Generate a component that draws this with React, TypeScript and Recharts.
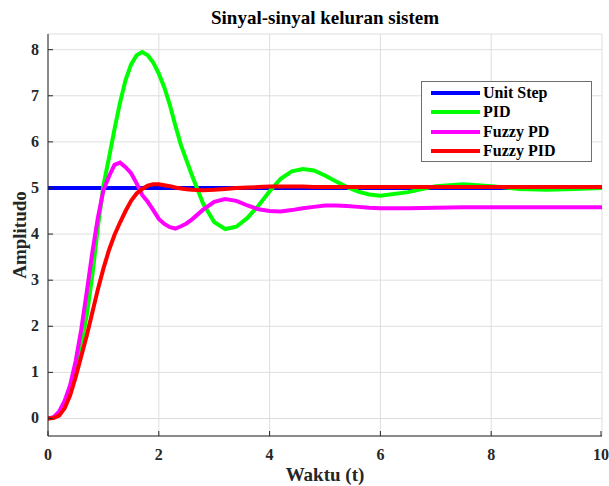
import React from "react";
import { LineChart, Line, XAxis, YAxis, CartesianGrid } from "recharts";

// waktu (s) and the response of each controller
const waktu = [
  0, 0.1, 0.2, 0.3, 0.4, 0.5, 0.6, 0.7, 0.8, 0.9, 1.0, 1.1, 1.2, 1.3, 1.4, 1.5,
  1.6, 1.7, 1.8, 1.9, 2.0, 2.1, 2.2, 2.3, 2.4, 2.5, 2.6, 2.8, 3.0, 3.2, 3.4,
  3.6, 3.8, 4.0, 4.2, 4.4, 4.6, 4.8, 5.0, 5.2, 5.4, 5.6, 5.8, 6.0, 6.5, 7.0,
  7.5, 8.0, 8.5, 9.0, 9.5, 10,
];

const pid = [
  0, 0.02, 0.1, 0.28, 0.55, 1.0, 1.6, 2.25, 3.1, 4.15, 5.05, 5.65, 6.27, 6.85,
  7.34, 7.68, 7.88, 7.95, 7.88, 7.72, 7.48, 7.18, 6.8, 6.35, 5.93, 5.6, 5.27,
  4.66, 4.26, 4.11, 4.16, 4.35, 4.62, 4.93, 5.2, 5.36, 5.41, 5.38, 5.27, 5.14,
  5.02, 4.92, 4.86, 4.83, 4.91, 5.04, 5.08, 5.04, 4.98, 4.96, 4.98, 5.0,
];

const fuzzyPd = [
  0, 0.03, 0.15, 0.38, 0.72, 1.25, 1.93, 2.75, 3.6, 4.35, 4.95, 5.25, 5.5,
  5.55, 5.45, 5.32, 5.1, 4.85, 4.7, 4.52, 4.33, 4.22, 4.15, 4.12, 4.17, 4.23,
  4.32, 4.53, 4.7, 4.76, 4.72, 4.62, 4.54, 4.5, 4.49, 4.52, 4.56, 4.59, 4.62,
  4.62, 4.61, 4.59, 4.57, 4.56, 4.56, 4.57, 4.58, 4.58, 4.58, 4.58, 4.58, 4.58,
];

const fuzzyPid = [
  0, 0.01, 0.06, 0.22, 0.5, 0.9, 1.35, 1.8, 2.3, 2.8, 3.25, 3.65, 3.98, 4.25,
  4.5, 4.72, 4.88, 4.98, 5.05, 5.08, 5.08, 5.06, 5.04, 5.01, 4.99, 4.97, 4.96,
  4.95, 4.96, 4.98, 5.0, 5.01, 5.02, 5.03, 5.03, 5.03, 5.03, 5.02, 5.02, 5.02,
  5.02, 5.02, 5.02, 5.02, 5.02, 5.02, 5.02, 5.02, 5.02, 5.02, 5.02, 5.02,
];

const stepWaktu = [0, 10];
const stepNilai = [5, 5];

const xTicks = [0, 2, 4, 6, 8, 10];
const yTicks = [0, 1, 2, 3, 4, 5, 6, 7, 8];

const legendItems = [
  { name: "Unit Step", color: "#0000ff" },
  { name: "PID", color: "#00ff00" },
  { name: "Fuzzy PD", color: "#ff00ff" },
  { name: "Fuzzy PID", color: "#ff0000" },
];

const FONT = '"Liberation Serif", "Times New Roman", serif';
const INK = "#262626";

const data = waktu.map((t, i) => ({
  t,
  pid: pid[i],
  fuzzyPd: fuzzyPd[i],
  fuzzyPid: fuzzyPid[i],
}));
const stepData = stepWaktu.map((t, i) => ({ t, step: stepNilai[i] }));

// ticks point inward, like the original figure
const LeftTick = ({ x, y, payload }: any) => (
  <g>
    <line x1={x} x2={x + 5} y1={y} y2={y} stroke={INK} />
    <text x={x - 9} y={y + 5} textAnchor="end" fontFamily={FONT} fontWeight="bold" fontSize={16} fill={INK}>
      {payload.value}
    </text>
  </g>
);

const BottomTick = ({ x, y, payload }: any) => (
  <g>
    <line x1={x} x2={x} y1={y} y2={y - 5} stroke={INK} />
    <text x={x} y={y + 24} textAnchor="middle" fontFamily={FONT} fontWeight="bold" fontSize={16} fill={INK}>
      {payload.value}
    </text>
  </g>
);

const TopTick = ({ x, y }: any) => (
  <line x1={x} x2={x} y1={y} y2={y + 5} stroke={INK} />
);

const RightTick = ({ x, y }: any) => (
  <line x1={x - 5} x2={x} y1={y} y2={y} stroke={INK} />
);

const LegendBox = () => (
  <div
    style={{
      position: "absolute",
      left: 421,
      top: 81,
      width: 169,
      height: 78,
      border: "1px solid #6e6e6e",
      background: "#fff",
      paddingTop: 1,
    }}
  >
    {legendItems.map((item) => (
      <div key={item.name} style={{ display: "flex", alignItems: "center", height: 19.5 }}>
        <div style={{ width: 49, height: 4, marginLeft: 9, background: item.color }} />
        <span style={{ marginLeft: 3, fontFamily: FONT, fontWeight: "bold", fontSize: 16, color: "#000" }}>
          {item.name}
        </span>
      </div>
    ))}
  </div>
);

export default function App() {
  return (
    <div style={{ position: "absolute", left: 0, top: 0, width: 609, height: 486, background: "#fff" }}>
      <LineChart
        width={609}
        height={486}
        data={data}
        margin={{ top: 34, right: 7, left: 0, bottom: 0 }}
        style={{ position: "absolute", left: 0, top: 0 }}
      >
        <CartesianGrid stroke="#dedede" strokeWidth={1} />
        <XAxis
          dataKey="t"
          type="number"
          domain={[0, 10]}
          ticks={xTicks}
          height={50}
          tickSize={0}
          tickMargin={0}
          tickLine={false}
          axisLine={{ stroke: INK }}
          tick={<BottomTick />}
          allowDataOverflow
        />
        <XAxis
          xAxisId="top"
          orientation="top"
          dataKey="t"
          type="number"
          domain={[0, 10]}
          ticks={xTicks}
          height={0}
          tickSize={0}
          tickMargin={0}
          tickLine={false}
          axisLine={{ stroke: INK }}
          tick={<TopTick />}
          allowDataOverflow
        />
        <YAxis
          type="number"
          domain={[-0.38, 8.34]}
          ticks={yTicks}
          width={48}
          tickSize={0}
          tickMargin={0}
          tickLine={false}
          axisLine={{ stroke: INK }}
          tick={<LeftTick />}
          allowDataOverflow
        />
        <YAxis
          yAxisId="right"
          orientation="right"
          type="number"
          domain={[-0.38, 8.34]}
          ticks={yTicks}
          width={0}
          tickSize={0}
          tickMargin={0}
          tickLine={false}
          axisLine={{ stroke: INK }}
          tick={<RightTick />}
          allowDataOverflow
        />
        {/* unit step uses the top/right axes so the box frame is always drawn */}
        <Line
          data={stepData}
          xAxisId="top"
          yAxisId="right"
          dataKey="step"
          stroke="#0000ff"
          strokeWidth={4}
          dot={false}
          isAnimationActive={false}
        />
        <Line dataKey="pid" stroke="#00ff00" strokeWidth={4} dot={false} isAnimationActive={false} />
        <Line dataKey="fuzzyPd" stroke="#ff00ff" strokeWidth={4} dot={false} isAnimationActive={false} />
        <Line dataKey="fuzzyPid" stroke="#ff0000" strokeWidth={4} dot={false} isAnimationActive={false} />
      </LineChart>
      <div
        style={{
          position: "absolute",
          top: 7,
          left: 48,
          width: 554,
          textAlign: "center",
          fontFamily: FONT,
          fontWeight: "bold",
          fontSize: 19,
          color: "#000",
        }}
      >
        Sinyal-sinyal keluran sistem
      </div>
      <div
        style={{
          position: "absolute",
          top: 464,
          left: 48,
          width: 554,
          textAlign: "center",
          fontFamily: FONT,
          fontWeight: "bold",
          fontSize: 19,
          color: INK,
        }}
      >
        Waktu (t)
      </div>
      <div
        style={{
          position: "absolute",
          left: 20,
          top: 235,
          transform: "translate(-50%, -50%) rotate(-90deg)",
          fontFamily: FONT,
          fontWeight: "bold",
          fontSize: 19,
          color: INK,
          whiteSpace: "nowrap",
        }}
      >
        Amplitudo
      </div>
      <LegendBox />
    </div>
  );
}
